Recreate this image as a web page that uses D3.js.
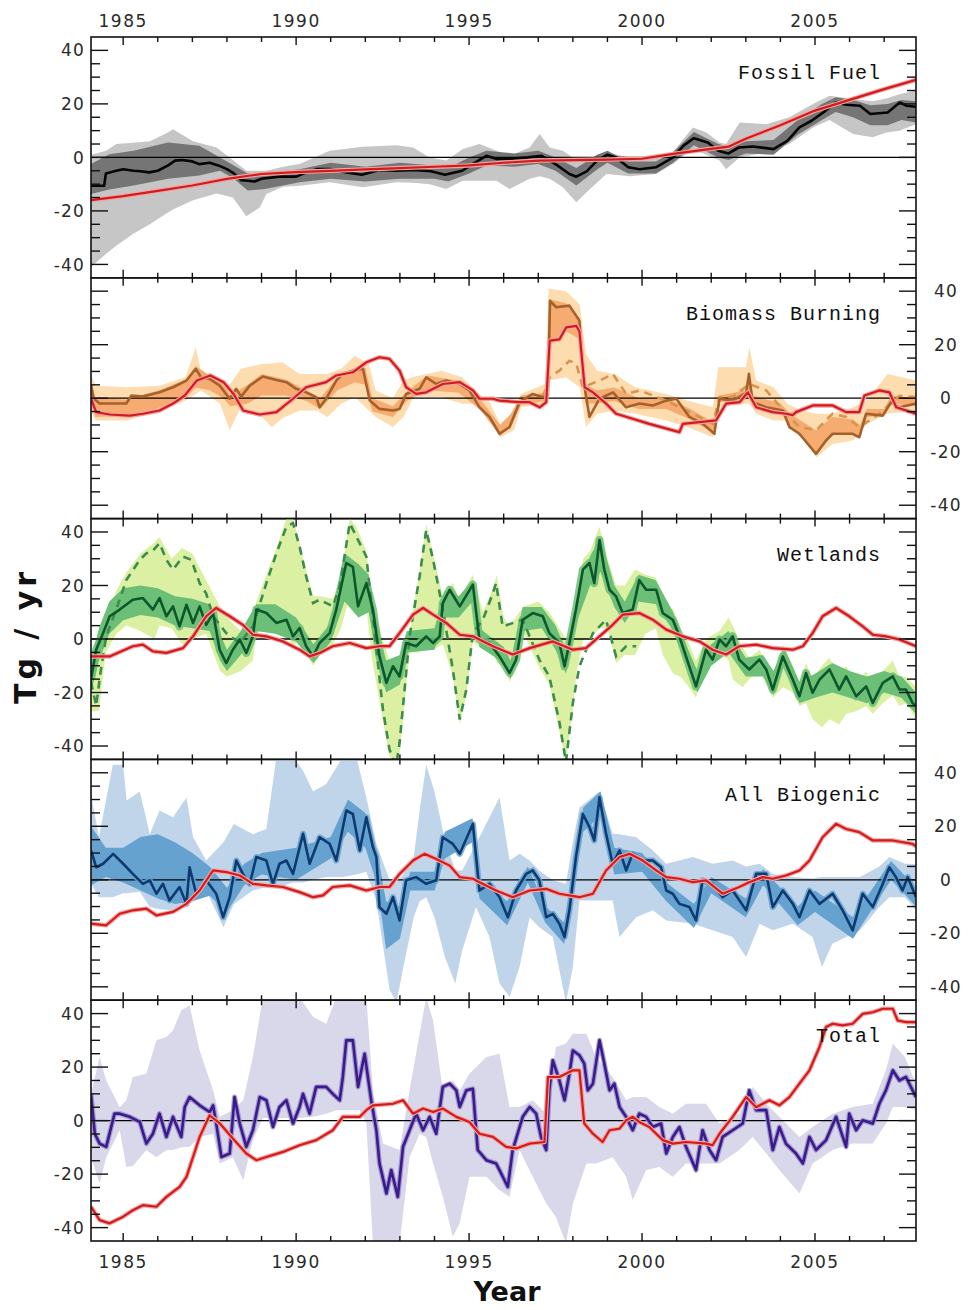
<!DOCTYPE html>
<html>
<head>
<meta charset="utf-8">
<script src="https://cdn.jsdelivr.net/npm/d3@7"></script>
<style>
  body { margin: 0; background: #fff; }
</style>
</head>
<body>
<script>
// ---- Fossil Fuel ----
const fossilLine = [[1984.07,-10.6],[1984.45,-10.6],[1984.5,-6],[1984.8,-5],[1985,-4.4],[1985.3,-5],[1985.5,-5.2],[1985.75,-5.6],[1986,-5],[1986.3,-3],[1986.5,-1.2],[1986.7,-1],[1987,-1.5],[1987.2,-2.5],[1987.5,-2],[1987.75,-3],[1988,-4.4],[1988.2,-6],[1988.4,-8.5],[1988.6,-8.7],[1988.8,-9],[1989,-8],[1989.5,-7.2],[1990,-7.2],[1990.3,-5.6],[1990.6,-4.4],[1991,-4.4],[1991.45,-5.6],[1991.9,-6.5],[1992.4,-4.7],[1992.9,-5],[1993.4,-4.7],[1993.9,-5.2],[1994.3,-6.5],[1994.8,-5],[1995.1,-2.5],[1995.5,0.6],[1995.8,-0.6],[1996.3,-0.4],[1996.7,0],[1997.1,0.6],[1997.5,-2.5],[1997.9,-6.2],[1998.1,-7.2],[1998.4,-5.2],[1998.7,-1.2],[1999,1],[1999.25,0],[1999.6,-3.7],[1999.93,-4.4],[2000.4,-3.7],[2000.9,0],[2001.2,4.4],[2001.5,7.2],[2001.9,5.6],[2002.2,2.5],[2002.5,1.5],[2002.8,3.7],[2003.2,4.1],[2003.8,3.1],[2004.2,6.2],[2004.55,11.2],[2004.9,13.7],[2005.3,17.4],[2005.6,20.5],[2005.9,19.7],[2006.3,19.3],[2006.6,16.2],[2007.1,16.8],[2007.45,20.5],[2007.65,19.3],[2007.92,18.9]];
const fossilRed = [[1984.07,-16],[1985,-14.5],[1986,-12.5],[1987,-10.5],[1988,-8],[1989,-6.2],[1990,-5.5],[1991,-5],[1992,-4.5],[1993,-4],[1994,-3.5],[1995,-3],[1996,-2],[1997,-1.2],[1998,-1],[1999,-0.8],[2000,-0.5],[2001,1.5],[2002,3.2],[2002.5,4],[2003,7],[2004,12],[2005,17.5],[2006,21.5],[2007,25.5],[2007.92,29]];
const fossilLight = [[1984.07,-41,1],[1984.51,-36,2.5],[1984.8,-33,5],[1985.28,-28.6,5.5],[1985.77,-25,6],[1986.25,-21,9],[1986.44,-19.5,10.5],[1987.02,-16,6],[1987.7,-13.5,3.7],[1988.17,-15,-1],[1988.56,-22,-5],[1988.95,-18.7,-5],[1989.14,-13.7,-5],[1989.62,-11,-3.5],[1990.1,-10.6,-2.5],[1990.97,-9.3,2.5],[1991.93,-11.2,4],[1992.9,-9.3,4.5],[1993.38,-9.5,3.7],[1993.86,-10,0],[1994.34,-11.8,-1.2],[1994.82,-8.7,3.1],[1995.3,-8.7,5],[1995.79,-8.7,2.5],[1996.17,-11.8,0.6],[1996.75,-8,3.7],[1997.04,-7,8.7],[1997.33,-8,3.7],[1997.71,-11.2,2.5],[1998.1,-16.8,-1],[1998.48,-12,-1.2],[1998.97,-6.2,1.9],[1999.64,-7,0],[2000.41,-6.2,0],[2000.89,-2.5,1.9],[2001.47,3.1,11.2],[2001.86,1,9.3],[2002.24,-1.2,5.6],[2002.43,-4.4,5],[2002.82,0,13],[2003.59,1.9,12.4],[2004.26,5,15],[2004.94,11.2,20],[2005.42,14,23],[2006.1,8.7,21.8],[2006.67,7.5,21],[2007.06,9.3,22],[2007.44,10,23.6],[2007.92,12.4,25]];
const fossilDark = [[1984.07,-13.7,-2.5],[1984.6,-12,1.2],[1985.3,-10.5,2.5],[1986.3,-8,5.6],[1987.2,-6.8,4.4],[1987.8,-5,0],[1988.2,-8,-3],[1988.6,-12.4,-6],[1989.1,-11.8,-6],[1990.1,-9.3,-4.4],[1991,-8,-2],[1992,-9,-3.5],[1993,-8,-2],[1994,-8,-3],[1994.4,-9,-4],[1995,-6,0],[1995.5,-3,2.5],[1996.3,-3.5,1.5],[1997,-2.5,2.5],[1997.5,-5,0],[1998.1,-10.5,-4],[1998.7,-4.5,1],[1999,-2,2.5],[1999.6,-6,-1.5],[2000.4,-6,-1.5],[2000.9,-2,2],[2001.5,4.5,9.5],[2002.2,0,5],[2002.5,-1,4],[2003,1.5,6],[2003.8,1,6.5],[2004.5,8.5,14],[2005.2,14,20],[2005.6,17,22.5],[2006.1,15,21.5],[2006.6,12,19.5],[2007.1,12,20],[2007.5,14,21.5],[2007.92,13,21]];

// ---- Biomass Burning ----
const burnLine = [[1984.07,5],[1984.15,-0.2],[1984.32,-2],[1984.61,-2],[1985.09,-2],[1985.24,1],[1985.57,0.6],[1986.05,2.2],[1986.44,4.1],[1986.83,6.6],[1987.1,11],[1987.25,7.8],[1987.5,7.2],[1987.79,4.7],[1988.08,-0.2],[1988.27,3.5],[1988.41,0.6],[1988.66,4.7],[1989.04,8.1],[1989.43,6.8],[1989.72,6],[1990,3.5],[1990.29,2.2],[1990.58,0.4],[1990.68,-3.4],[1990.87,-0.2],[1991.16,6.6],[1991.35,9.1],[1991.64,10.3],[1991.93,11],[1992.13,-0.9],[1992.41,-4],[1992.8,-4.6],[1992.99,-4],[1993.18,1.6],[1993.57,3.5],[1993.76,7.8],[1994.05,5.3],[1994.34,6.6],[1994.73,5.3],[1995.01,2.9],[1995.3,-3.4],[1995.59,-7],[1995.88,-13.3],[1996.17,-10.8],[1996.46,-1.5],[1996.84,1.6],[1997.13,0.4],[1997.28,1],[1997.34,36.4],[1997.52,34],[1997.9,34.6],[1998.19,29],[1998.34,4],[1998.48,-7],[1998.77,-0.2],[1999.16,2.2],[1999.54,-3.4],[1999.93,-2],[2000.31,-2.7],[2000.7,-0.9],[2000.99,-0.2],[2001.37,-7],[2001.76,-9.6],[2002.09,-13.3],[2002.24,-0.2],[2002.62,-0.9],[2003.01,2],[2003.09,9.1],[2003.2,-1.5],[2003.59,-3.4],[2004.07,-4.6],[2004.26,-10.8],[2004.55,-13.3],[2005.03,-20.8],[2005.32,-15.8],[2005.51,-13.3],[2006.09,-13.3],[2006.28,-14.6],[2006.48,-5.8],[2006.96,-6.5],[2007.2,-1.5],[2007.44,-3.4],[2007.92,-2]];
const burnRed = [[1984.07,-0.2],[1984.22,-5.2],[1984.61,-6.1],[1985.19,-6.5],[1985.57,-5.8],[1986.05,-4.6],[1986.44,-2],[1986.78,1],[1987.13,6.6],[1987.52,8.5],[1987.9,6],[1988.19,1.6],[1988.47,-4.6],[1988.95,-6.1],[1989.43,-5.2],[1989.91,-0.2],[1990.29,4.1],[1990.87,6],[1991.16,8.5],[1991.64,9.7],[1992.03,13.4],[1992.41,15.3],[1992.7,14.7],[1992.99,10.3],[1993.18,4.1],[1993.47,1.6],[1993.76,2.2],[1994.24,5.3],[1994.73,6],[1995.11,2.9],[1995.3,-0.2],[1995.69,-0.2],[1995.88,-0.9],[1996.46,-1.5],[1996.75,-1.5],[1997.04,-3.4],[1997.23,-1.5],[1997.33,21.5],[1997.61,22],[1997.81,26.5],[1998.1,27],[1998.19,25],[1998.34,4.1],[1998.58,2.2],[1998.96,-2],[1999.25,-5.8],[1999.73,-7.7],[2000.21,-9.6],[2001.08,-12.7],[2001.18,-9.6],[2002.14,-8.3],[2002.43,-2],[2002.82,-1.5],[2003.06,2.2],[2003.3,-3.4],[2003.78,-5.2],[2004.17,-5.8],[2004.36,-6.3],[2004.45,-5.2],[2004.94,-2.7],[2005.51,-2.7],[2005.9,-5.2],[2006.28,-5.2],[2006.43,1],[2006.86,2.9],[2007.15,2.2],[2007.35,-3.4],[2007.92,-5.8]];
const burnDash = [[1997.13,0.5],[1997.33,7.8],[1997.61,10.3],[1997.9,14],[1998.1,12.8],[1998.29,4.1],[1998.77,6.6],[1999.16,9],[1999.54,1.6],[1999.93,2.9],[2000.7,-0.9],[2001.27,-4.6],[2002.05,-9.6],[2002.24,0.4],[2002.62,0.4],[2003.1,5.3],[2003.59,2.9],[2004.17,-5.8],[2004.55,-10.8],[2005.03,-12],[2005.51,-5.8],[2005.9,-7],[2006.28,-10.8],[2006.86,-5.8],[2007.44,0.9],[2007.92,0.4]];
const burnLight = [[1984.07,-5,9],[1984.2,-8.3,4.7],[1985.1,-8.3,4.1],[1986.05,-4.6,4.7],[1986.8,-0.9,7.8],[1987.1,1.6,19],[1987.25,2.9,10.3],[1987.8,-2.1,6.6],[1988.08,-12,5],[1988.4,-3.4,11],[1989,-7,12.8],[1989.3,-10.8,13],[1989.6,-7.5,13.4],[1990.1,-4.6,9],[1990.6,-4.6,9],[1990.9,-7,9],[1991.3,-2.1,11],[1991.7,0.4,15.9],[1992.1,-4.6,12.8],[1992.3,-7,2.9],[1992.8,-10.8,0],[1993.1,-7,6.6],[1993.4,0.4,8],[1994.2,0.4,10.3],[1994.8,-2.1,7.8],[1995.3,-2.1,1.6],[1995.6,-8.3,-1.5],[1995.9,-14.6,-9.6],[1996.3,-12,-5],[1996.5,-3.4,1.6],[1997.2,-2.1,5.3],[1997.3,6.6,41],[1997.8,7.8,40],[1998.2,4.1,35],[1998.38,-10.8,16.5],[1998.7,-5.8,10.3],[1999.2,-4.6,9],[1999.8,-5.8,4.1],[2000.7,-8.3,1.6],[2001.3,-10.8,-0.9],[2002.05,-14.6,-3.4],[2002.2,-3.4,11.6],[2003,-2.1,11.6],[2003.1,-2.1,19],[2003.3,-5.8,6.6],[2003.8,-8.3,4.1],[2004.2,-8.3,-2.1],[2004.6,-14.6,-4.6],[2005.05,-22.1,-5.8],[2005.5,-17.1,-5.8],[2006.1,-15.8,-3.4],[2006.5,-9.6,-0.9],[2007.1,-5.8,9],[2007.92,-4.6,6.6]];
const burnMid = [[1984.07,-3,6],[1984.2,-7,0],[1985.1,-6.5,-0.5],[1985.6,-5.5,1.5],[1986.05,-3.5,3],[1986.8,0,7],[1987.1,4,12],[1987.5,3,8.5],[1987.9,0,5.5],[1988.1,-3,1],[1988.6,-2,5],[1989,1,9],[1989.7,1,7],[1990.3,-1,3],[1990.7,-4,0],[1991.2,3,8],[1991.7,6,11],[1992,5,11.5],[1992.2,-5,0],[1992.8,-7,-3],[1993.2,-1,2.5],[1993.8,3,8.5],[1994.7,2,6.5],[1995.3,-4,0],[1995.9,-14,-10],[1996.2,-11,-6],[1996.5,-2.5,1],[1997.2,-1,2],[1997.32,20,37],[1997.8,25,35.5],[1998.2,22,30],[1998.36,-2,5],[1998.7,-2,3],[1999.2,-1,4],[1999.9,-4,0],[2000.7,-4,0],[2001.4,-8,-4],[2002.05,-13,-9],[2002.25,-1.5,1],[2003,-0.5,3],[2003.1,2,9],[2003.2,-2,1],[2004,-5,-2],[2004.3,-11,-6],[2005.03,-20,-12],[2005.5,-13.5,-7],[2006.1,-13.5,-8],[2006.3,-14,-10],[2006.5,-7,-4],[2007,-6.5,-4],[2007.2,-2,1],[2007.92,-3,0]];

// ---- Wetlands ----
const wetLine = [[1984.07,-15],[1984.22,-4],[1984.42,2.2],[1984.61,8.5],[1984.9,11],[1985.28,14.7],[1985.57,15.3],[1985.86,11],[1986.05,15.3],[1986.25,8.5],[1986.44,12.2],[1986.63,4.7],[1986.83,12.8],[1987.02,6],[1987.21,12.2],[1987.4,5.3],[1987.6,9.7],[1987.79,-4],[1987.98,-9],[1988.17,-4],[1988.37,-0.2],[1988.56,-5.2],[1988.75,1],[1988.85,11],[1989.14,9.7],[1989.43,6],[1989.72,7.2],[1989.91,1],[1990.1,4.1],[1990.29,-2.7],[1990.49,-6.5],[1990.68,-1.5],[1990.97,2.2],[1991.16,11],[1991.45,28.4],[1991.64,27],[1991.79,12.2],[1992.03,20.9],[1992.22,11],[1992.41,-6.5],[1992.61,-16.4],[1992.8,-10.2],[1992.99,-14],[1993.18,-1.5],[1993.47,-2.7],[1993.76,1],[1993.96,-1.5],[1994.15,1],[1994.24,13.4],[1994.44,18.4],[1994.73,12.2],[1995.11,20.3],[1995.3,-0.2],[1995.59,-1.5],[1995.88,-6.5],[1996.17,-12.7],[1996.36,-7.7],[1996.55,7.2],[1996.84,9.7],[1997.13,8.5],[1997.32,2.2],[1997.61,-1.5],[1997.76,-10.2],[1997.9,-1.5],[1998.09,11],[1998.29,25.9],[1998.48,28.4],[1998.62,20.9],[1998.77,37],[1998.91,25.9],[1999.06,18.4],[1999.25,15.9],[1999.44,9.7],[1999.73,11],[1999.92,22],[2000.12,18.4],[2000.41,18.4],[2000.6,9.7],[2000.89,7.2],[2001.08,1],[2001.27,-6.5],[2001.56,-17.7],[2001.85,-4],[2002.04,-7.7],[2002.24,-0.2],[2002.43,-2.7],[2002.62,1],[2002.81,-7.7],[2003.1,-11.4],[2003.39,-7.7],[2003.59,-11.4],[2003.78,-18.9],[2004.07,-6.5],[2004.36,-15.2],[2004.55,-21.4],[2004.74,-12.7],[2004.93,-20.1],[2005.13,-15.2],[2005.42,-11.4],[2005.7,-18.9],[2005.9,-14],[2006.19,-21.4],[2006.48,-17.7],[2006.67,-23.9],[2006.96,-16.4],[2007.25,-14],[2007.44,-18.9],[2007.63,-18.9],[2007.82,-23.9],[2007.92,-25]];
const wetRed = [[1984.07,-6.5],[1984.61,-6.5],[1985.28,-2.7],[1985.57,-2.1],[1985.86,-4.6],[1986.25,-5.2],[1986.73,-3.4],[1987.02,1],[1987.4,8.5],[1987.69,11.6],[1988.08,8.5],[1988.46,5.3],[1988.75,1.6],[1989.14,1],[1989.62,-0.9],[1990.1,-4],[1990.39,-6.5],[1990.68,-5.2],[1991.06,-2.7],[1991.55,-1.5],[1992.03,-3.4],[1992.41,-2.7],[1992.7,-2.7],[1992.99,2.2],[1993.38,9.1],[1993.67,11.6],[1993.96,9.1],[1994.34,6],[1994.73,1.6],[1995.11,1],[1995.3,-0.2],[1995.69,-2.7],[1996.26,-5.8],[1996.75,-3.4],[1997.42,-0.9],[1998,-4],[1998.38,-3.4],[1998.77,1],[1999.15,5.3],[1999.44,9.1],[1999.92,9.7],[2000.31,7.2],[2000.7,3.5],[2001.18,1],[2001.66,-0.9],[2002.04,-4],[2002.43,-5.8],[2002.81,-2.7],[2003.3,-2.1],[2003.78,-3.4],[2004.36,-4],[2004.65,-2.7],[2004.93,2.2],[2005.22,8.5],[2005.61,11.6],[2005.99,8.5],[2006.38,4.7],[2006.67,1.6],[2007.05,1],[2007.44,-0.2],[2007.92,-2.7]];
const wetDash = [[1984.07,-16],[1984.22,-25],[1984.35,-12],[1984.51,1],[1984.8,11],[1985.09,22],[1985.48,29.6],[1985.67,32],[1985.86,33],[1986.05,35.8],[1986.25,29.6],[1986.44,25.9],[1986.73,30.8],[1986.97,29.6],[1987.21,20.9],[1987.4,17],[1987.6,8.5],[1987.98,2.2],[1988.37,-1.5],[1988.75,4.7],[1989.14,20.9],[1989.43,32],[1989.72,42],[1989.91,43.3],[1990.1,34.6],[1990.29,23.4],[1990.49,13.4],[1990.68,14.7],[1991.06,12.2],[1991.26,19.7],[1991.55,43.3],[1991.74,38.3],[1992.03,30.8],[1992.32,-4],[1992.51,-26.4],[1992.7,-41.3],[1992.89,-47.5],[1992.99,-38.8],[1993.28,1],[1993.57,23.4],[1993.76,40.8],[1993.96,29.6],[1994.24,11],[1994.53,-11.4],[1994.73,-30.1],[1994.92,-18.9],[1995.11,2.2],[1995.4,7.2],[1995.69,17.2],[1995.78,20.9],[1995.97,4.7],[1996.55,7.2],[1997.03,-7.7],[1997.32,-14],[1997.61,-31],[1997.8,-46],[1998,-23.9],[1998.19,-10.2],[1998.58,2.2],[1998.96,7.2],[1999.25,-6.5],[1999.54,-2.7],[1999.83,-2.7]];
const wetLight = [[1984.07,-27,-8],[1984.3,-27,2],[1984.5,-5,8],[1984.8,2,18],[1985.1,5,25],[1985.5,3,32],[1985.9,0,36],[1986.05,5,38],[1986.4,4,30],[1986.7,-2,34],[1987,0,32],[1987.4,2,22],[1987.8,-12,12],[1988,-14,8],[1988.4,-12,3],[1988.75,-8,8],[1988.85,2,14],[1989.14,4,24],[1989.43,2,34],[1989.72,2,45],[1989.91,-3,45],[1990.1,0,36],[1990.3,-6,25],[1990.5,-10,16],[1990.7,-6,16],[1991.06,-2,15],[1991.3,4,24],[1991.55,16,45],[1991.74,10,42],[1992.03,12,33],[1992.2,-8,14],[1992.5,-30,0],[1992.7,-44,-8],[1992.9,-46,-8],[1993,-42,-10],[1993.28,-5,3],[1993.57,-5,26],[1993.76,-3,43],[1993.96,-4,32],[1994.24,-2,16],[1994.53,-14,21],[1994.73,-32,14],[1994.92,-21,20],[1995.11,-1,24],[1995.4,-4,10],[1995.69,-5,19],[1995.8,-9,24],[1996,-10,8],[1996.17,-16,5],[1996.4,-10,9],[1996.55,3,12],[1997,-10,14],[1997.32,-17,10],[1997.6,-34,4],[1997.8,-46,0],[1998,-27,3],[1998.1,-13,15],[1998.3,0,30],[1998.5,0,33],[1998.77,4,42],[1999,4,30],[1999.25,-9,20],[1999.5,-6,20],[1999.8,-6,26],[2000.1,2,24],[2000.4,4,23],[2000.6,-6,14],[2000.9,-13,11],[2001.1,-14,4],[2001.3,-17,0],[2001.56,-22,-8],[2001.85,-8,0],[2002.24,-5,3],[2002.5,-8,8],[2002.62,-15,5],[2002.9,-18,-3],[2003.1,-15,-7],[2003.4,-12,-4],[2003.78,-22,-14],[2004.07,-18,-2],[2004.36,-20,-10],[2004.55,-25,-16],[2004.74,-24,-9],[2004.93,-30,-15],[2005.2,-33,-10],[2005.42,-30,-7],[2005.7,-32,-14],[2005.9,-28,-10],[2006.19,-27,-17],[2006.48,-25,-12],[2006.67,-28,-19],[2006.96,-24,-12],[2007.25,-21,-8],[2007.44,-25,-14],[2007.63,-24,-14],[2007.92,-30,-18]];
const wetMid = [[1984.07,-20,-8],[1984.3,-8,4],[1984.6,2,14],[1985,7,19],[1985.5,9,20],[1986,8,19],[1986.5,5,16],[1987,4,15],[1987.5,3,13],[1987.8,-8,2],[1988,-12,-4],[1988.4,-6,3],[1988.85,3,13],[1989.4,2,13],[1990,-1,8],[1990.5,-9,-2],[1991,-1,6],[1991.4,14,32],[1991.8,8,28],[1992.1,10,24],[1992.3,-4,8],[1992.6,-20,-8],[1993,-17,-6],[1993.2,-5,3],[1994,-4,4],[1994.3,8,18],[1994.7,8,16],[1995.1,14,22],[1995.3,-3,4],[1996,-9,-3],[1996.2,-15,-8],[1996.55,3,12],[1997.1,4,12],[1997.5,-4,5],[1997.8,-13,-4],[1998.1,6,15],[1998.5,20,31],[1998.8,25,38],[1999.2,12,20],[1999.5,6,14],[1999.9,14,24],[2000.4,13,22],[2000.9,3,10],[2001.3,-10,-3],[2001.6,-20,-12],[2002,-10,-2],[2002.5,-5,3],[2003,-14,-7],[2003.5,-14,-6],[2003.8,-21,-12],[2004.1,-10,-3],[2004.55,-24,-16],[2005,-22,-13],[2005.5,-20,-9],[2006,-22,-12],[2006.5,-24,-14],[2007,-20,-12],[2007.5,-22,-14],[2007.92,-28,-20]];

// ---- All Biogenic ----
const bioLine = [[1984.07,11],[1984.22,4.7],[1984.42,6],[1984.71,9.7],[1985,6],[1985.28,2.2],[1985.57,-1.5],[1985.77,-0.2],[1985.96,-5.2],[1986.15,-1.5],[1986.34,-7.7],[1986.63,-2.7],[1986.83,-9],[1986.92,4.7],[1987.11,-5.2],[1987.4,-0.2],[1987.69,-5.2],[1987.89,-14],[1988.08,-6.5],[1988.27,7.2],[1988.46,2.2],[1988.66,-1.5],[1988.85,8.5],[1989.14,7.2],[1989.33,-1.5],[1989.52,6],[1989.72,7.2],[1989.91,2.2],[1990.2,17.2],[1990.39,6],[1990.68,15.9],[1990.97,13.4],[1991.16,7.2],[1991.45,25.9],[1991.64,24.6],[1991.84,11],[1992.03,23.4],[1992.22,12.2],[1992.32,8.5],[1992.41,-10.2],[1992.61,-12.7],[1992.8,-6.5],[1992.99,-15.2],[1993.18,-0.2],[1993.47,1],[1993.76,-1.5],[1994.05,-0.2],[1994.24,15.9],[1994.53,13.4],[1994.73,9.7],[1995.11,20.9],[1995.3,-4],[1995.59,-1.5],[1995.88,-6.5],[1996.12,-14],[1996.36,-4],[1996.65,2.2],[1996.84,3.5],[1997.03,-0.2],[1997.23,-14],[1997.42,-12.7],[1997.61,-16.4],[1997.76,-21.4],[1997.9,-11.4],[1998.09,8.5],[1998.29,24.6],[1998.48,19.7],[1998.62,14.7],[1998.77,30.8],[1998.96,17.2],[1999.15,6],[1999.35,11],[1999.54,3.5],[1999.73,9.7],[2000.02,7.2],[2000.31,7.2],[2000.55,4.7],[2000.7,-4],[2000.89,-5.2],[2001.08,-9],[2001.37,-10.2],[2001.56,-15.2],[2001.75,-0.2],[2002.04,-1.5],[2002.33,-6.5],[2002.62,-4],[2003.01,-11.4],[2003.3,2.2],[2003.59,2.2],[2003.78,-10.2],[2004.07,-4],[2004.36,-9],[2004.55,-14],[2004.84,-4],[2005.13,-9],[2005.51,-5.2],[2005.8,-11.4],[2006.09,-18.9],[2006.38,-5.2],[2006.67,-10.2],[2006.96,-1.5],[2007.15,4.7],[2007.34,1],[2007.53,-4],[2007.68,1],[2007.92,-6.5]];
const bioRed = [[1984.07,-16.4],[1984.51,-17],[1984.9,-12.7],[1985.28,-11.4],[1985.67,-10.8],[1985.96,-13.3],[1986.44,-12],[1986.83,-9],[1987.21,-4],[1987.6,3.5],[1987.98,2.9],[1988.37,1.6],[1988.75,-1.5],[1989.14,-2.1],[1989.62,-2.7],[1990.1,-4.6],[1990.49,-6.5],[1990.78,-5.8],[1991.06,-2.7],[1991.55,-2.1],[1992.03,-4],[1992.41,-2.7],[1992.7,-2.7],[1992.99,2.2],[1993.38,7.2],[1993.71,9.7],[1994.05,7.8],[1994.44,5.3],[1994.73,1],[1995.11,0.4],[1995.3,-0.9],[1995.78,-4],[1996.26,-6.5],[1996.75,-4],[1997.23,-3.4],[1997.61,-5.2],[1998.19,-6.5],[1998.58,-5.2],[1998.96,3.5],[1999.35,8.5],[1999.64,9.7],[2000.02,7.2],[2000.41,3.5],[2000.7,1],[2001.08,0.4],[2001.47,-0.9],[2001.85,-0.2],[2002.33,-5.2],[2002.81,-2.7],[2003.1,-0.9],[2003.49,1],[2003.78,0.4],[2004.16,1.6],[2004.55,3.5],[2004.84,7.2],[2005.22,15.9],[2005.61,20.9],[2005.9,19],[2006.28,17.8],[2006.67,14.7],[2007.25,14.7],[2007.82,13.4],[2007.92,12.5]];
const bioLight = [[1984.07,-1.5,32],[1984.3,-6.5,16],[1984.7,-6.5,43],[1985,-5,43],[1985.1,-5,29.6],[1985.48,-4.5,33],[1985.77,-10.2,17],[1986.05,-11,25.9],[1986.44,-11.4,23.4],[1986.83,-10.2,30.8],[1987.02,-8,16],[1987.4,-4,7.2],[1987.9,-17.7,14],[1988.2,-9,20.9],[1988.75,-4,17],[1989.14,-2.7,19],[1989.43,-3,46],[1989.91,-1,46],[1990.2,-1,40.8],[1990.49,0,33],[1990.87,1,35.8],[1991.35,1,46],[1991.74,2,46],[1992.03,3,30.8],[1992.32,-8,13.4],[1992.7,-41,0],[1992.9,-46,-1],[1993.1,-32.6,2],[1993.4,-14,8.5],[1993.57,-8,25.9],[1993.76,-6.5,43],[1994,-14,33],[1994.3,-28.9,15],[1994.6,-38.8,3.5],[1994.8,-26.4,3.5],[1995.2,-10.2,13.4],[1995.59,-21.4,23.4],[1995.88,-38.8,30.8],[1996.17,-43.8,7.2],[1996.46,-32.6,9.7],[1996.75,-14,7.2],[1997.03,-17.7,3.5],[1997.42,-21.4,-0.2],[1997.8,-46,-1.5],[1998,-32.6,14],[1998.19,-7.7,27],[1998.77,-7.7,33],[1999.15,-7.7,17.2],[1999.35,-21.4,17],[1999.83,-14,15.9],[2000.31,-11.4,11],[2000.7,-15.2,6],[2001.47,-16.4,8.5],[2002.04,-18.9,6],[2002.62,-21.4,7.2],[2003.01,-28.9,5],[2003.4,-16.4,6],[2003.78,-18.9,2.2],[2004.36,-16.4,1],[2004.93,-21.4,0.5],[2005.2,-32.6,1],[2005.5,-23.9,1],[2005.9,-21.4,1],[2006.3,-18.9,1],[2006.86,-10.2,5],[2007.15,-6.5,8.5],[2007.6,-6.5,6],[2007.92,-11.4,5.9]];
const bioMid = [[1984.07,-2,20],[1984.5,1,12],[1985,-1,12],[1985.5,-4,16],[1986,-7,17],[1986.5,-9,14],[1987,-8,10],[1987.5,-6,5],[1988,-12,-3],[1988.5,-2,6],[1989,2,10],[1990,0,12],[1991,8,16],[1991.5,18,30],[1992,12,25],[1992.35,-2,10],[1992.6,-26,-8],[1993,-22,-10],[1993.3,-4,3],[1994,-4,3],[1994.3,8,18],[1995.1,14,23],[1995.3,-7,0],[1996.1,-17,-8],[1996.7,-1,5],[1997.2,-16,-10],[1997.75,-24,-16],[1998.3,18,27],[1998.8,24,33],[1999.2,2,12],[2000,3,10],[2000.7,-8,-1],[2001.5,-18,-9],[2002,-5,1],[2003,-14,-7],[2003.5,-2,4],[2004.5,-17,-10],[2005,-12,-4],[2006.1,-22,-14],[2007.2,0,7],[2007.92,-10,-3]];

// ---- Total ----
const totLine = [[1984.07,10],[1984.18,-4.9],[1984.32,-8.6],[1984.51,-9.8],[1984.75,2.6],[1984.9,2.6],[1985.19,1.4],[1985.48,-0.5],[1985.67,-8.6],[1985.86,-4.9],[1986.05,2.6],[1986.25,-6.1],[1986.44,1.4],[1986.68,-6.1],[1986.78,5.1],[1986.92,8.8],[1987.21,5.7],[1987.5,3.2],[1987.6,5.7],[1987.69,-1.1],[1987.84,-13.6],[1988.08,-12.3],[1988.22,8.8],[1988.37,-1.1],[1988.56,-9.8],[1988.75,-3.6],[1988.95,8.8],[1989.14,7.6],[1989.33,-2.4],[1989.52,5.1],[1989.72,7.6],[1989.91,-1.1],[1990.1,5.1],[1990.2,10],[1990.39,2.6],[1990.58,12.6],[1990.87,12.6],[1991.06,10],[1991.26,7.6],[1991.35,16.3],[1991.45,30],[1991.64,30],[1991.79,12.6],[1991.98,25],[1992.17,7.6],[1992.32,-3.6],[1992.41,-16],[1992.61,-27.2],[1992.75,-18.5],[1992.94,-28.5],[1993.09,-9.8],[1993.28,-3.6],[1993.47,2.6],[1993.67,-3.6],[1993.86,1.4],[1994.05,-4.9],[1994.24,12.6],[1994.44,13.8],[1994.63,11.3],[1994.73,5.1],[1994.92,11.3],[1995.11,11.9],[1995.25,-11],[1995.5,-14.8],[1995.78,-16],[1995.88,-18.5],[1996.12,-24.8],[1996.26,-11],[1996.55,1.4],[1996.75,5.1],[1996.94,2.6],[1997.08,-6.1],[1997.23,-11],[1997.32,11.3],[1997.42,22.5],[1997.61,15],[1997.76,7.6],[1997.9,17.5],[1998,26.2],[1998.19,24.4],[1998.33,21.3],[1998.43,11.3],[1998.58,13.8],[1998.77,30],[1998.91,21.3],[1999.06,11.3],[1999.2,13.8],[1999.35,5.1],[1999.54,1.4],[1999.73,-3.6],[1999.92,2.6],[2000.12,1.4],[2000.31,-2.4],[2000.55,-1.1],[2000.7,-12.3],[2000.89,-6.1],[2001.08,-2.4],[2001.27,-9.8],[2001.56,-18.5],[2001.75,-3.6],[2001.95,-11],[2002.14,-14.8],[2002.33,-6.1],[2002.62,-3.6],[2002.91,-1.1],[2003.1,11.3],[2003.3,3.9],[2003.59,3.9],[2003.78,-11],[2003.97,-2.4],[2004.16,-8.6],[2004.45,-12.3],[2004.65,-16],[2004.84,-6.1],[2005.03,-11],[2005.32,-7.3],[2005.61,1.4],[2005.9,-9.8],[2005.99,2.6],[2006.19,-3.6],[2006.38,0.1],[2006.67,-1.1],[2006.86,6.3],[2007.05,11.3],[2007.25,18.8],[2007.44,15],[2007.63,16.3],[2007.92,8.8]];
const totRed = [[1984.07,-32.2],[1984.32,-37.2],[1984.61,-38.4],[1985,-35.9],[1985.28,-33.5],[1985.57,-31.6],[1985.96,-32.2],[1986.25,-28.5],[1986.63,-24.8],[1986.83,-21],[1987.02,-13.6],[1987.21,-6.1],[1987.5,2],[1987.79,-1],[1988.17,-6.7],[1988.56,-12.3],[1988.85,-14.8],[1989.14,-13.6],[1989.62,-11.7],[1990.1,-9.2],[1990.58,-7.3],[1991.06,-3.6],[1991.35,1.4],[1991.84,1.4],[1992.03,3.9],[1992.22,5.7],[1992.8,6.3],[1993.09,7.6],[1993.38,2.6],[1993.67,4.5],[1993.96,3.2],[1994.24,4.5],[1994.63,1.4],[1995.01,-0.5],[1995.3,-4.9],[1995.69,-6.1],[1996.07,-9.8],[1996.36,-10.4],[1996.75,-8.6],[1997.18,-8],[1997.28,16.3],[1997.61,16.3],[1998,18.8],[1998.19,18.8],[1998.33,-1.1],[1998.58,-4.9],[1998.86,-8],[1999.06,-3.6],[1999.35,-3],[1999.54,0.1],[1999.73,1.4],[1999.92,-0.5],[2000.21,-2.4],[2000.6,-7.3],[2000.89,-8.6],[2001.27,-8],[2001.85,-8.6],[2002.04,-9.2],[2002.24,-4.9],[2002.62,1.4],[2003.01,8.8],[2003.3,5],[2003.68,7.6],[2003.97,5.7],[2004.26,8.8],[2004.55,13.8],[2004.84,18.8],[2005.13,27.5],[2005.32,35],[2005.51,36.2],[2005.8,35.6],[2006.09,36.2],[2006.38,39.9],[2006.67,40.5],[2006.96,41.8],[2007.25,41.8],[2007.39,37.4],[2007.63,36.8],[2007.92,36.8]];
const totLight = [[1984.07,-13.7,10],[1984.32,-23.5,23.8],[1984.51,-13.7,15],[1984.9,-3.6,5],[1985.09,-17.3,7.6],[1985.28,-17,16.3],[1985.67,-11,17.5],[1985.96,-13.7,30],[1986.25,-11,31.2],[1986.44,-11,33.7],[1986.68,-10,41.2],[1986.92,-9.8,43],[1987.21,-6.1,26.2],[1987.6,-4.9,11.3],[1987.79,-16,1.4],[1988.17,-13.7,3.9],[1988.47,-22.3,7.6],[1988.75,-7.3,23.8],[1989.04,1,46],[1990.1,1,46],[1990.49,1.4,38.7],[1990.87,2.6,36.2],[1991.16,3.9,46],[1991.84,3.9,46],[1992.03,-1.1,46],[1992.22,-46,11.3],[1992.51,-46,-8.6],[1992.99,-46,-11],[1993.28,-13.7,11.3],[1993.57,-4.9,32.5],[1993.76,-6.1,46],[1993.96,-16,37.4],[1994.24,-28.5,11.3],[1994.53,-43.4,15],[1994.73,-38.4,11.3],[1995.01,-21,17.5],[1995.5,-21,23.8],[1995.88,-26,25],[1996.17,-28.5,5.1],[1996.46,-11,5.1],[1996.84,-21,7.6],[1997.23,-31,2.6],[1997.51,-36,27.5],[1997.8,-46,28.8],[1998,-31,32.5],[1998.39,-16,32.5],[1998.67,-16,23.8],[1999.15,-13.7,16.3],[1999.54,-21,7.6],[1999.73,-29.7,8.8],[2000.12,-18.5,8.8],[2000.5,-17.3,5.1],[2000.89,-21,2.6],[2001.27,-16,6.3],[2001.85,-16,6.3],[2002.24,-16,-1.1],[2002.81,-11,2.6],[2003.2,-6.1,12.6],[2003.59,-12.3,6.3],[2003.97,-18.5,1.4],[2004.55,-27.2,-6.1],[2004.93,-16,-2.4],[2005.51,-11,2.6],[2006.09,-8.6,5.1],[2006.67,-8.6,6.3],[2007.05,-1.1,18.8],[2007.25,5.1,28.7],[2007.6,5.1,23.8],[2007.92,3.9,13.8]];

const panelTitles = ["Fossil Fuel", "Biomass Burning", "Wetlands", "All Biogenic", "Total"];
const yearTicks = d3.range(1985, 2008);
const valueTicks = d3.range(-40, 41, 5);
const yearLabels = [1985, 1990, 1995, 2000, 2005];
const valueLabels = [-40, -20, 0, 20, 40];

const width = 968, height = 1310;
const left = 91, right = 916, top0 = 37, panelH = 240.8;

const svg = d3.select("body").append("svg")
    .attr("width", width)
    .attr("height", height)
    .style("font-family", "'DejaVu Sans', sans-serif");

const x = d3.scaleLinear().domain([1984.07, 2007.92]).range([left, right]);

const panels = [
  {light: fossilLight, mid: fossilDark, line: fossilLine, red: fossilRed, dash: null,
   lightC: "#c6c6c6", midC: "#757575", lineC: "#050505", halo: 0, labels: "left"},
  {light: burnLight, mid: burnMid, line: burnLine, red: burnRed, dash: burnDash,
   lightC: "#fddcb0", midC: "#f6ab70", lineC: "#a5612c", dashC: "#d8934f", halo: 0, labels: "right"},
  {light: wetLight, mid: wetMid, line: wetLine, red: wetRed, dash: wetDash,
   lightC: "#dcf0a4", midC: "#6cbf76", lineC: "#0c572b", dashC: "#3c8c4e", halo: 8, labels: "left"},
  {light: bioLight, mid: bioMid, line: bioLine, red: bioRed, dash: null,
   lightC: "#c0d5ea", midC: "#65a2cf", lineC: "#0d3b71", halo: 6, labels: "right"},
  {light: totLight, mid: null, line: totLine, red: totRed, dash: null,
   lightC: "#d8d8ea", midC: "#9a8bca", lineC: "#3a1b8c", halo: 5, labels: "left"}
];

const defs = svg.append("defs");

panels.forEach((p, i) => {
  const top = top0 + i * panelH;
  const y = d3.scaleLinear().domain([-45, 45]).range([top + panelH, top]);

  defs.append("clipPath").attr("id", "clip" + i)
    .append("rect")
    .attr("x", left).attr("y", top)
    .attr("width", right - left).attr("height", panelH);

  const band = d3.area()
      .x(d => x(d[0]))
      .y0(d => y(d[1]))
      .y1(d => y(d[2]));
  const line = d3.line()
      .x(d => x(d[0]))
      .y(d => y(d[1]));

  const g = svg.append("g").attr("clip-path", `url(#clip${i})`);

  g.append("path").attr("d", band(p.light)).attr("fill", p.lightC);
  if (p.mid) g.append("path").attr("d", band(p.mid)).attr("fill", p.midC);

  g.append("line")
    .attr("x1", left).attr("x2", right)
    .attr("y1", y(0)).attr("y2", y(0))
    .attr("stroke", "#000").attr("stroke-width", 1.3);

  if (p.halo) {
    g.append("path").attr("d", line(p.line))
      .attr("fill", "none").attr("stroke", p.midC)
      .attr("stroke-width", p.halo).attr("stroke-linejoin", "round").attr("opacity", 0.85);
  }
  if (p.dash) {
    g.append("path").attr("d", line(p.dash))
      .attr("fill", "none").attr("stroke", p.dashC)
      .attr("stroke-width", 2.6).attr("stroke-dasharray", "8,6");
  }
  g.append("path").attr("d", line(p.line))
    .attr("fill", "none").attr("stroke", p.lineC)
    .attr("stroke-width", 2.6).attr("stroke-linejoin", "round");

  g.append("path").attr("d", line(p.red))
    .attr("fill", "none").attr("stroke", "#f2a4a4")
    .attr("stroke-width", 4.5).attr("stroke-linejoin", "round");
  g.append("path").attr("d", line(p.red))
    .attr("fill", "none").attr("stroke", "#d41b1b")
    .attr("stroke-width", 2.2).attr("stroke-linejoin", "round");

  // frame
  svg.append("rect")
    .attr("x", left).attr("y", top)
    .attr("width", right - left).attr("height", panelH)
    .attr("fill", "none").attr("stroke", "#111").attr("stroke-width", 1.6);

  // x ticks, inward on top and bottom
  yearTicks.forEach(t => {
    const len = t % 5 === 0 ? 8 : 5;
    svg.append("line").attr("x1", x(t)).attr("x2", x(t))
      .attr("y1", top).attr("y2", top + len)
      .attr("stroke", "#111").attr("stroke-width", 1.4);
    svg.append("line").attr("x1", x(t)).attr("x2", x(t))
      .attr("y1", top + panelH).attr("y2", top + panelH - len)
      .attr("stroke", "#111").attr("stroke-width", 1.4);
  });

  // y ticks, inward on left and right
  valueTicks.forEach(v => {
    const len = v % 20 === 0 ? 17 : 9;
    svg.append("line").attr("x1", left).attr("x2", left + len)
      .attr("y1", y(v)).attr("y2", y(v))
      .attr("stroke", "#111").attr("stroke-width", 1.4);
    svg.append("line").attr("x1", right).attr("x2", right - len)
      .attr("y1", y(v)).attr("y2", y(v))
      .attr("stroke", "#111").attr("stroke-width", 1.4);
  });

  valueLabels.forEach(v => {
    svg.append("text")
      .attr("x", p.labels === "left" ? 85 : 946)
      .attr("y", y(v)).attr("dy", "0.36em")
      .attr("text-anchor", p.labels === "left" ? "end" : "middle")
      .attr("font-size", 17).attr("letter-spacing", 1.2)
      .attr("fill", "#2a2a2a")
      .text(v);
  });

  svg.append("text")
    .attr("x", 881).attr("y", top + 42)
    .attr("text-anchor", "end")
    .attr("font-family", "'Liberation Mono', monospace")
    .attr("font-size", 20).attr("letter-spacing", 1)
    .attr("fill", "#111")
    .text(panelTitles[i]);
});

// year labels above first and below last panel
yearLabels.forEach(t => {
  svg.append("text").attr("x", x(t)).attr("y", 27)
    .attr("text-anchor", "middle").attr("font-size", 17).attr("letter-spacing", 1.5)
    .attr("fill", "#2a2a2a").text(t);
  svg.append("text").attr("x", x(t)).attr("y", 1268)
    .attr("text-anchor", "middle").attr("font-size", 17).attr("letter-spacing", 1.5)
    .attr("fill", "#2a2a2a").text(t);
});

svg.append("text")
  .attr("transform", "translate(36,636) rotate(-90)")
  .attr("text-anchor", "middle")
  .attr("font-size", 30).attr("font-weight", "bold").attr("letter-spacing", 4)
  .attr("fill", "#111")
  .text("Tg / yr");

svg.append("text")
  .attr("x", 507).attr("y", 1301)
  .attr("text-anchor", "middle")
  .attr("font-size", 27).attr("font-weight", "bold")
  .attr("fill", "#111")
  .text("Year");
</script>
</body>
</html>
